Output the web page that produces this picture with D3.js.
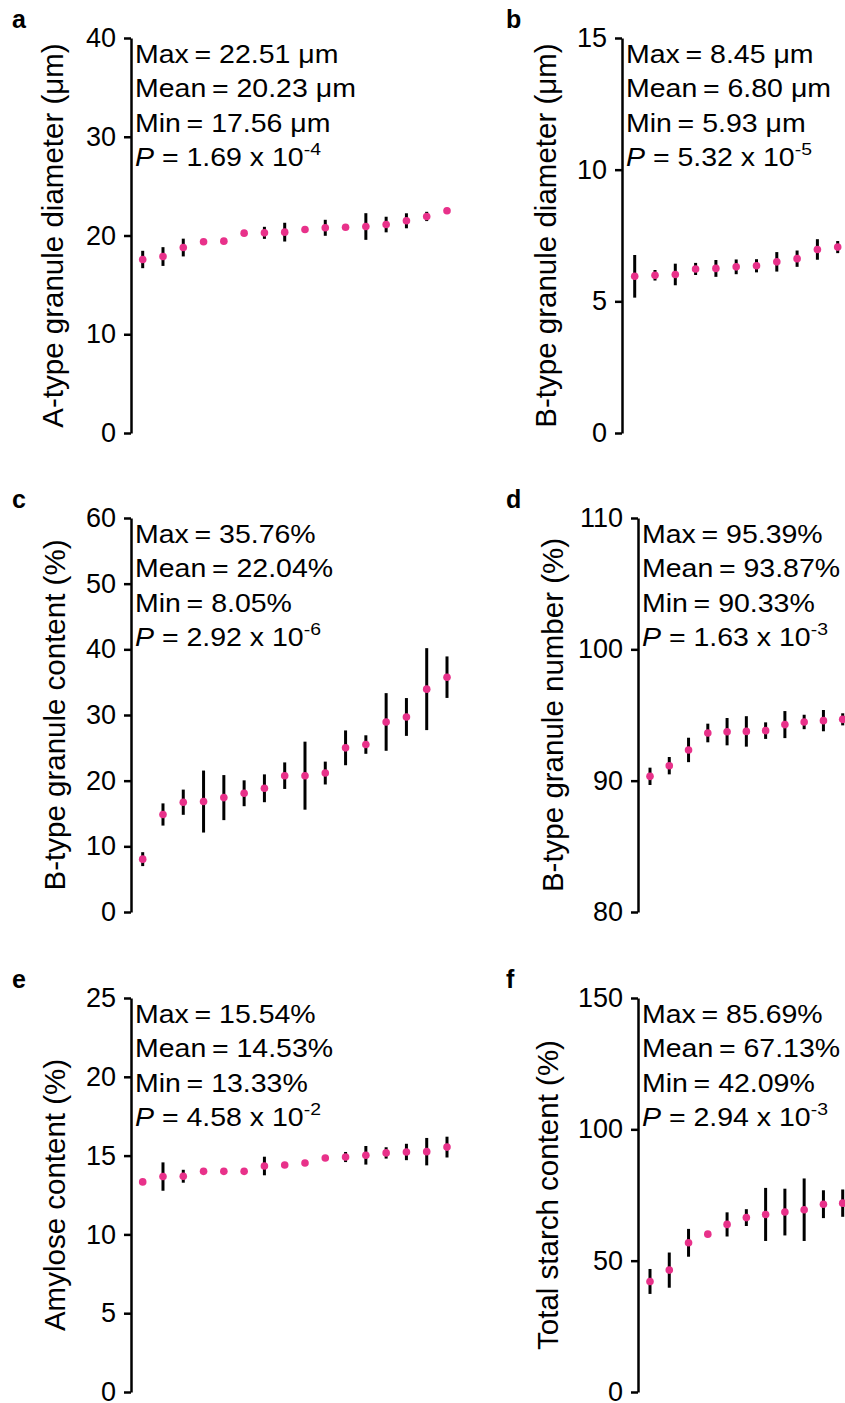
<!DOCTYPE html>
<html>
<head>
<meta charset="utf-8">
<script src="https://cdn.jsdelivr.net/npm/d3@7"></script>
<style>
  body { margin: 0; background: #fff; }
  svg { display: block; font-family: "Liberation Sans", Arial, sans-serif; }
</style>
</head>
<body>
<div id="chart"></div>
<script>
// valores (média e desvio de cada linhagem)
const aMean = [17.57, 17.87, 18.78, 19.36, 19.43, 20.24, 20.27, 20.34, 20.61, 20.78, 20.84, 20.91, 21.11, 21.49, 21.93, 22.51];
const aErr  = [0.88, 0.95, 0.9, 0.2, 0.2, 0.2, 0.61, 0.95, 0.2, 0.81, 0.2, 1.35, 0.79, 0.76, 0.47, 0.2];

const bMean = [5.95, 5.99, 6.02, 6.23, 6.25, 6.31, 6.35, 6.5, 6.62, 6.97, 7.06];
const bErr  = [0.81, 0.2, 0.41, 0.23, 0.32, 0.28, 0.25, 0.37, 0.31, 0.39, 0.23];

const cMean = [8.05, 14.85, 16.72, 16.82, 17.42, 18.08, 18.84, 20.76, 20.76, 21.16, 25.0, 25.5, 28.94, 29.7, 33.94, 35.76];
const cErr  = [1.06, 1.69, 1.92, 4.72, 3.43, 1.97, 2.12, 2.02, 5.18, 1.74, 2.65, 1.41, 4.39, 2.88, 6.24, 3.16];

const dMean = [90.33, 91.14, 92.34, 93.63, 93.73, 93.75, 93.81, 94.27, 94.47, 94.57, 94.67];
const dErr  = [0.66, 0.66, 0.93, 0.71, 1.04, 1.16, 0.63, 1.03, 0.55, 0.81, 0.46];

const eMean = [13.33, 13.67, 13.69, 14.0, 14.0, 14.0, 14.34, 14.4, 14.53, 14.85, 14.91, 15.02, 15.17, 15.23, 15.25, 15.54];
const eErr  = [0.1, 0.9, 0.41, 0.1, 0.1, 0.1, 0.59, 0.1, 0.1, 0.1, 0.32, 0.59, 0.36, 0.52, 0.87, 0.66];

const fMean = [42.09, 46.4, 56.8, 60.1, 63.8, 66.4, 67.6, 68.5, 69.4, 71.5, 71.9];
const fErr  = [4.75, 6.7, 5.3, 0.5, 4.6, 3.2, 10.1, 8.9, 11.9, 5.3, 5.2];

const letters = ['a', 'b', 'c', 'd', 'e', 'f'];
const yLabels = [
  'A-type granule diameter (μm)',
  'B-type granule diameter (μm)',
  'B-type granule content (%)',
  'B-type granule number (%)',
  'Amylose content (%)',
  'Total starch content (%)'
];
const yTicks = [
  [0, 10, 20, 30, 40],
  [0, 5, 10, 15],
  [0, 10, 20, 30, 40, 50, 60],
  [80, 90, 100, 110],
  [0, 5, 10, 15, 20, 25],
  [0, 50, 100, 150]
];
const statLines = [
  ['Max\u2009= 22.51 μm', 'Mean\u2009= 20.23 μm', 'Min\u2009= 17.56 μm'],
  ['Max\u2009= 8.45 μm', 'Mean\u2009= 6.80 μm', 'Min\u2009= 5.93 μm'],
  ['Max\u2009= 35.76%', 'Mean\u2009= 22.04%', 'Min\u2009= 8.05%'],
  ['Max\u2009= 95.39%', 'Mean\u2009= 93.87%', 'Min\u2009= 90.33%'],
  ['Max\u2009= 15.54%', 'Mean\u2009= 14.53%', 'Min\u2009= 13.33%'],
  ['Max\u2009= 85.69%', 'Mean\u2009= 67.13%', 'Min\u2009= 42.09%']
];
const pValues = [
  ['1.69', '-4'], ['5.32', '-5'], ['2.92', '-6'],
  ['1.63', '-3'], ['4.58', '-2'], ['2.94', '-3']
];
const means = [aMean, bMean, cMean, dMean, eMean, fMean];
const errs = [aErr, bErr, cErr, dErr, eErr, fErr];

// layout de cada painel
const layout = [
  { axisX: 131, top: 38,  bottom: 433,  x0: 142.7, x1: 447,   labelX: 53,  letterX: 12 },
  { axisX: 622, top: 38,  bottom: 433,  x0: 634.7, x1: 837.7, labelX: 546, letterX: 506 },
  { axisX: 131, top: 518, bottom: 912,  x0: 142.7, x1: 447,   labelX: 55,  letterX: 12 },
  { axisX: 638, top: 518, bottom: 912,  x0: 650,   x1: 842.7, labelX: 553, letterX: 506 },
  { axisX: 131, top: 998, bottom: 1392, x0: 142.7, x1: 447,   labelX: 55,  letterX: 12 },
  { axisX: 638, top: 998, bottom: 1392, x0: 650,   x1: 842.7, labelX: 548, letterX: 506 }
];

const DOT_COLOR = '#E8318A';
const STRETCH = 1.14; // o texto horizontal da figura original é mais largo

const svg = d3.select('#chart').append('svg')
  .attr('width', 845)
  .attr('height', 1403);

layout.forEach((L, i) => {
  const ticks = yTicks[i];
  const y = d3.scaleLinear()
    .domain(d3.extent(ticks))
    .range([L.bottom, L.top]);
  const x = d3.scalePoint()
    .domain(d3.range(means[i].length))
    .range([L.x0, L.x1]);

  const g = svg.append('g');

  // eixo y
  const axis = g.append('g')
    .attr('transform', `translate(${L.axisX},0)`)
    .call(d3.axisLeft(y).tickValues(ticks).tickSize(7).tickSizeOuter(0).tickPadding(8));
  axis.select('.domain').attr('stroke', '#000').attr('stroke-width', 2.5);
  axis.selectAll('.tick line').attr('stroke', '#000').attr('stroke-width', 2.5);
  axis.selectAll('.tick text')
    .attr('fill', '#000')
    .attr('font-size', 27)
    .attr('dy', '0.32em')
    .attr('font-family', '"Liberation Sans", Arial, sans-serif');

  // rótulo do eixo
  g.append('text')
    .attr('transform', `translate(${L.labelX},${(L.top + L.bottom) / 2}) rotate(-90)`)
    .attr('text-anchor', 'middle')
    .attr('dy', '0.35em')
    .attr('font-size', 29.5)
    .text(yLabels[i]);

  // letra do painel
  g.append('text')
    .attr('x', L.letterX)
    .attr('y', L.top - 10)
    .attr('font-size', 25)
    .attr('font-weight', 'bold')
    .text(letters[i]);

  // estatísticas
  const stats = g.append('g')
    .attr('transform', `translate(${L.axisX + 4},${L.top}) scale(${STRETCH},1)`)
    .attr('font-size', 25);
  statLines[i].forEach((s, k) => {
    stats.append('text').attr('y', 25 + k * 34.5).text(s);
  });
  const pt = stats.append('text').attr('y', 25 + 3 * 34.5);
  pt.append('tspan').attr('font-style', 'italic').text('P');
  pt.append('tspan').text(` = ${pValues[i][0]} x 10`);
  pt.append('tspan').attr('font-size', 17).attr('dy', -11).text(pValues[i][1]);

  const rows = means[i].map((m, k) => ({ k, m, e: errs[i][k] }));

  // barras de erro
  g.append('g').selectAll('line')
    .data(rows)
    .enter()
    .append('line')
    .attr('x1', d => x(d.k))
    .attr('x2', d => x(d.k))
    .attr('y1', d => y(d.m - d.e))
    .attr('y2', d => y(d.m + d.e))
    .attr('stroke', '#000')
    .attr('stroke-width', 3);

  // pontos
  g.append('g').selectAll('circle')
    .data(rows)
    .enter()
    .append('circle')
    .attr('cx', d => x(d.k))
    .attr('cy', d => y(d.m))
    .attr('r', 3.8)
    .attr('fill', DOT_COLOR);
});
</script>
</body>
</html>
